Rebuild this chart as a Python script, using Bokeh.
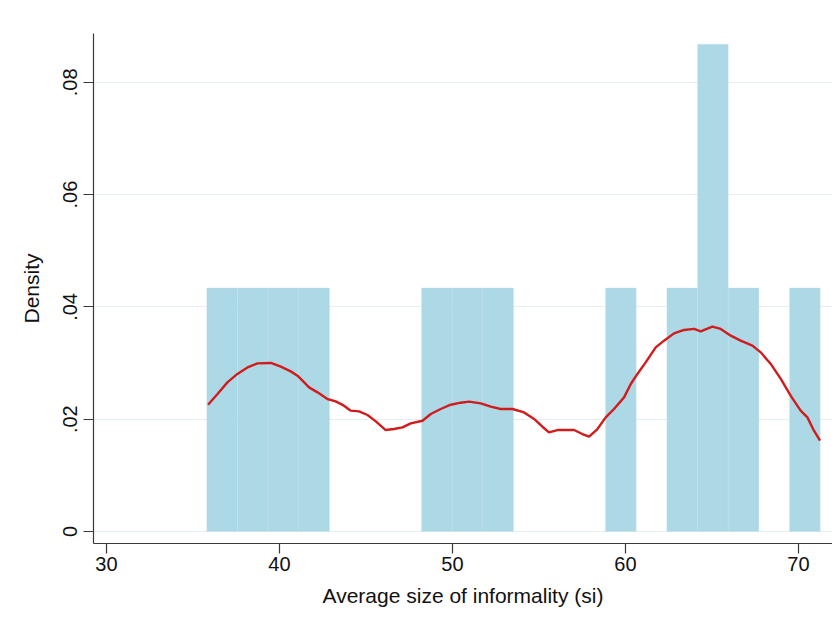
import numpy as np
from bokeh.plotting import figure
from bokeh.models import FixedTicker, CustomJSTickFormatter, Range1d
from bokeh.embed import file_html
from bokeh.resources import INLINE

# Histogram (20 equal-width bins), counts per bin
bin_start = 35.80
bin_width = 1.773
bin_counts = [1, 1, 1, 1, 0, 0, 0, 1, 1, 1, 0, 0, 0, 1, 0, 1, 2, 1, 0, 1]

# Kernel density curve
kde_x = [35.87, 36.42, 36.99, 37.57, 38.15, 38.73, 39.50, 40.08, 40.65, 41.04,
         41.33, 41.71, 42.20, 42.77, 43.25, 43.73, 44.12, 44.60, 45.09, 45.57,
         46.14, 46.62, 47.11, 47.59, 48.27, 48.75, 49.32, 49.90, 50.48, 50.96,
         51.64, 52.21, 52.79, 53.47, 54.14, 54.72, 55.20, 55.58, 56.07, 57.03,
         57.51, 57.90, 58.38, 58.86, 59.34, 59.92, 60.31, 60.69, 61.17, 61.75,
         62.23, 62.81, 63.39, 63.97, 64.35, 65.03, 65.51, 66.09, 66.66, 67.34,
         67.82, 68.40, 68.98, 69.55, 70.13, 70.52, 70.90, 71.25]
kde_y = [0.02258, 0.02449, 0.02656, 0.02806, 0.02923, 0.02995, 0.03002, 0.02936, 0.02852, 0.02775,
         0.02686, 0.02567, 0.02478, 0.02360, 0.02317, 0.02241, 0.02152, 0.02139, 0.02075, 0.01961,
         0.01807, 0.01825, 0.01854, 0.01925, 0.01973, 0.02093, 0.02182, 0.02258, 0.02294, 0.02312,
         0.02282, 0.02223, 0.02182, 0.02182, 0.02121, 0.02004, 0.01866, 0.01765, 0.01807, 0.01807,
         0.01736, 0.01688, 0.01825, 0.02032, 0.02182, 0.02389, 0.02627, 0.02806, 0.03012, 0.03280,
         0.03399, 0.03529, 0.03590, 0.03608, 0.03565, 0.03649, 0.03608, 0.03488, 0.03399, 0.03310,
         0.03191, 0.02984, 0.02717, 0.02419, 0.02152, 0.02032, 0.01795, 0.01617]

x_ticks = [30, 40, 50, 60, 70]
y_ticks = [0, 0.02, 0.04, 0.06, 0.08]
x_title = "Average size of informality (si)"
y_title = "Density"

n_obs = sum(bin_counts)
lefts = [bin_start + i * bin_width for i in range(len(bin_counts))]
rights = [l + bin_width for l in lefts]
dens = [c / (n_obs * bin_width) for c in bin_counts]
keep = [i for i, c in enumerate(bin_counts) if c > 0]

p = figure(width=832, height=613, output_backend="svg", toolbar_location=None,
           x_range=Range1d(29.25, 71.97), y_range=Range1d(-0.00214, 0.0887),
           min_border_left=93, min_border_right=0, min_border_top=33, min_border_bottom=70)
p.outline_line_color = None
p.background_fill_color = "white"
p.border_fill_color = "white"

p.quad(left=[lefts[i] for i in keep], right=[rights[i] for i in keep],
       bottom=0, top=[dens[i] for i in keep],
       fill_color="#add8e6", line_color="#c4e3ec", line_width=0.5, line_alpha=0.6)
p.line(kde_x, kde_y, line_color="#d01c1c", line_width=2.4)

p.xgrid.visible = False
p.ygrid.grid_line_color = "#e6f0f2"
p.ygrid.grid_line_width = 1.2
p.ygrid.ticker = FixedTicker(ticks=y_ticks)

p.xaxis.ticker = FixedTicker(ticks=x_ticks)
p.yaxis.ticker = FixedTicker(ticks=y_ticks)
p.yaxis.formatter = CustomJSTickFormatter(code="""
    if (Math.abs(tick) < 1e-12) { return "0"; }
    return tick.toFixed(2).replace(/^0/, "");
""")
p.yaxis.major_label_orientation = "vertical"

for ax in (p.xaxis, p.yaxis):
    ax.axis_line_color = "#3a3a3a"
    ax.axis_line_width = 1.2
    ax.major_tick_line_color = "#3a3a3a"
    ax.major_tick_line_width = 1.2
    ax.major_tick_out = 10
    ax.major_tick_in = 0
    ax.minor_tick_line_color = None
    ax.major_label_text_font = "Liberation Sans"
    ax.major_label_text_font_size = "20px"
    ax.major_label_text_color = "#111111"
    ax.axis_label_text_font = "Liberation Sans"
    ax.axis_label_text_font_size = "21px"
    ax.axis_label_text_font_style = "normal"
    ax.axis_label_text_color = "#111111"

p.xaxis.axis_label = x_title
p.yaxis.axis_label = y_title
p.xaxis.major_label_standoff = 3
p.yaxis.major_label_standoff = 6
p.xaxis.axis_label_standoff = 10
p.yaxis.axis_label_standoff = 18

open("out.html", "w").write(file_html(p, INLINE))
